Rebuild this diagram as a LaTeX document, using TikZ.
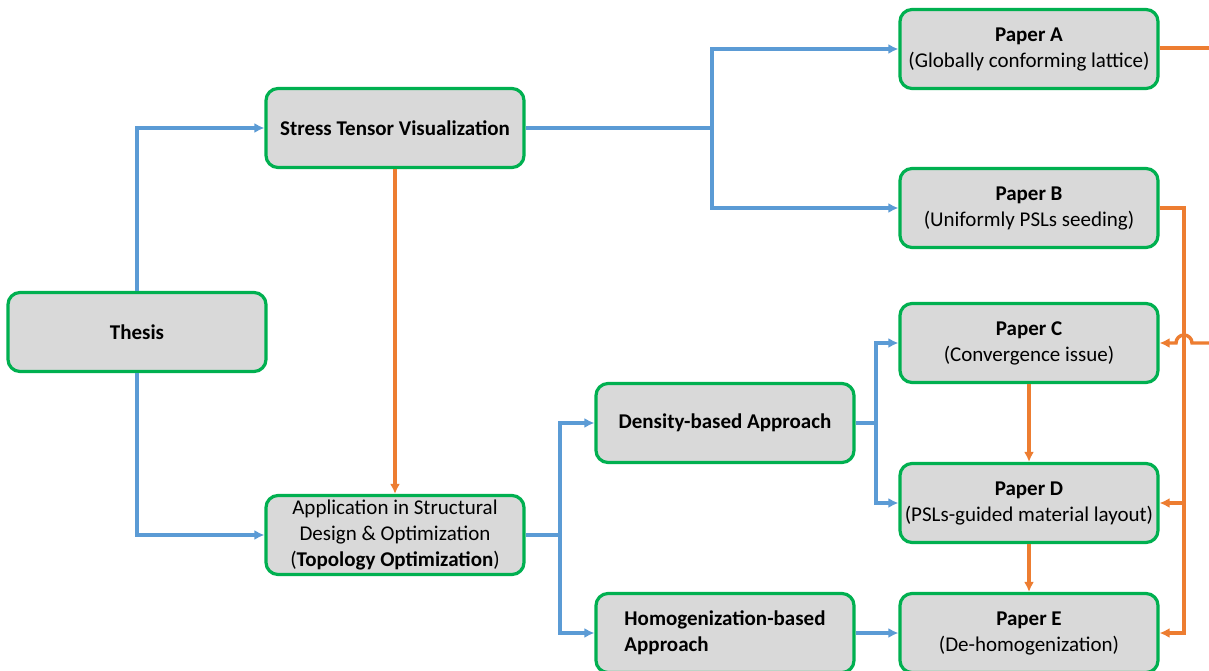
\documentclass[tikz,border=0pt]{standalone}
\usepackage{fontspec}
\setmainfont{Carlito}
\usetikzlibrary{arrows.meta}
\definecolor{boxgreen}{HTML}{00B050}
\definecolor{boxfill}{HTML}{D9D9D9}
\definecolor{lblue}{HTML}{5B9BD5}
\definecolor{lorange}{HTML}{ED7D31}
\tikzset{
  card/.style={draw=boxgreen, fill=boxfill, line width=3.2pt, rounded corners=12pt,
    minimum width=258pt, minimum height=79pt, align=center, inner sep=2pt,
    font=\fontsize{21}{26}\selectfont},
  bl/.style={draw=lblue, line width=3.4pt, -{Latex[length=10pt,width=10pt]}},
  bln/.style={draw=lblue, line width=3.4pt},
  or/.style={draw=lorange, line width=3.4pt, -{Latex[length=10pt,width=10pt]}},
  orn/.style={draw=lorange, line width=3.4pt},
}
\begin{document}
\begin{tikzpicture}[x=1pt,y=-1pt]
\useasboundingbox[fill=white] (0,0) rectangle (1209,671);
\node[card] (thesis) at (137,332) {\textbf{Thesis}};
\node[card] (stv) at (395,128) {\textbf{Stress Tensor Visualization}};
\node[card] (app) at (395,535) {Application in Structural\\Design \& Optimization\\(\textbf{Topology Optimization})};
\node[card] (dens) at (725,423) {\textbf{Density-based Approach}};
\node[card, align=left] (homo) at (725,633) {\textbf{Homogenization-based}\\\textbf{Approach}};
\node[card] (pa) at (1029,49) {\textbf{Paper A}\\(Globally conforming lattice)};
\node[card] (pb) at (1029,208) {\textbf{Paper B}\\(Uniformly PSLs seeding)};
\node[card] (pc) at (1029,343) {\textbf{Paper C}\\(Convergence issue)};
\node[card] (pd) at (1029,503) {\textbf{Paper D}\\(PSLs-guided material layout)};
\node[card] (pe) at (1029,633) {\textbf{Paper E}\\(De-homogenization)};
% junction coordinates
\coordinate (j1) at (712,128);
\coordinate (j2) at (560,535);
\coordinate (j3) at (876,423);
\coordinate (bus) at (1184,208);
\coordinate (offA) at (1209,48);
\coordinate (inC) at (1209,343);
% blue connectors
\draw[bl] (thesis.north) |- (stv.west);
\draw[bl] (thesis.south) |- (app.west);
\draw[bln] (stv.east) -- (j1);
\draw[bl] (j1) |- (pa.west);
\draw[bl] (j1) |- (pb.west);
\draw[bln] (app.east) -- (j2);
\draw[bl] (j2) |- (dens.west);
\draw[bl] (j2) |- (homo.west);
\draw[bln] (dens.east) -- (j3);
\draw[bl] (j3) |- (pc.west);
\draw[bl] (j3) |- (pd.west);
\draw[bl] (homo.east) -- (pe.west);
% orange connectors
\draw[or] (stv.south) -- (app.north);
\draw[or] (pc.south) -- (pd.north);
\draw[or] (pd.south) -- (pe.north);
\draw[orn] (pa.east |- offA) -- (offA);
\draw[or] (pb.east |- bus) -- (bus) |- (pe.east);
\draw[or] (bus |- pd.east) -- (pd.east);
\draw[or] (inC) -- ([xshift=8pt]bus |- inC) arc[start angle=0, end angle=180, radius=8pt] -- (pc.east);
\end{tikzpicture}
\end{document}
